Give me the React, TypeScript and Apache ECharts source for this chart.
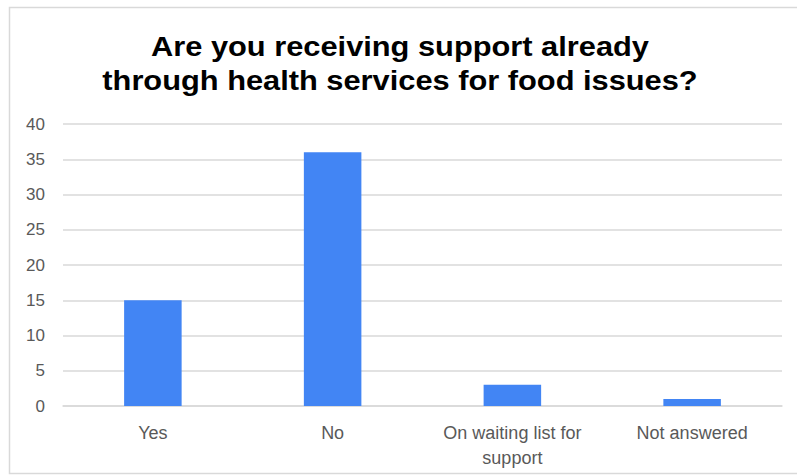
import React, { useEffect, useRef } from "react";
import * as echarts from "echarts";

const categories = ["Yes", "No", "On waiting list for\nsupport", "Not answered"];
const values = [15, 36, 3, 1];
const titleText = "Are you receiving support already\nthrough health services for food issues?";

export default function App() {
  const ref = useRef<HTMLDivElement>(null);
  useEffect(() => {
    if (!ref.current) return;
    const chart = echarts.init(ref.current, null, { renderer: "svg" });
    chart.setOption({
      animation: false,
      backgroundColor: "#ffffff",
      graphic: [
        {
          type: "polyline",
          shape: { points: [[800, 7.5], [9.5, 7.5], [9.5, 473.5], [800, 473.5]] },
          style: { stroke: "#d9d9d9", lineWidth: 1.5, fill: "none" },
          silent: true,
        },
        {
          type: "text",
          x: 400,
          y: 29,
          scaleX: 1.1,
          style: {
            text: titleText,
            align: "center",
            verticalAlign: "top",
            font: "bold 28px 'Liberation Sans', Arial, sans-serif",
            lineHeight: 34,
            fill: "#000000",
          },
          silent: true,
        },
      ],
      grid: { left: 63, right: 15, top: 124, bottom: 69, containLabel: false },
      xAxis: {
        type: "category",
        data: categories,
        axisLine: { show: true, lineStyle: { color: "#d9d9d9", width: 1.5 } },
        axisTick: { show: false },
        axisLabel: {
          color: "#595959",
          fontSize: 18,
          fontFamily: "Liberation Sans, Arial, sans-serif",
          margin: 14,
          lineHeight: 25,
          interval: 0,
        },
      },
      yAxis: {
        type: "value",
        min: 0,
        max: 40,
        interval: 5,
        axisLine: { show: false },
        axisTick: { show: false },
        splitLine: { lineStyle: { color: "#d9d9d9", width: 1.5 } },
        axisLabel: {
          color: "#595959",
          fontSize: 17,
          fontFamily: "Liberation Sans, Arial, sans-serif",
          margin: 18,
        },
      },
      series: [
        {
          type: "bar",
          data: values,
          barWidth: "32%",
          itemStyle: { color: "#4285f4" },
        },
      ],
    });
    return () => chart.dispose();
  }, []);
  return (
    <div
      ref={ref}
      style={{ position: "fixed", left: 0, top: 0, width: 797, height: 475 }}
    />
  );
}
